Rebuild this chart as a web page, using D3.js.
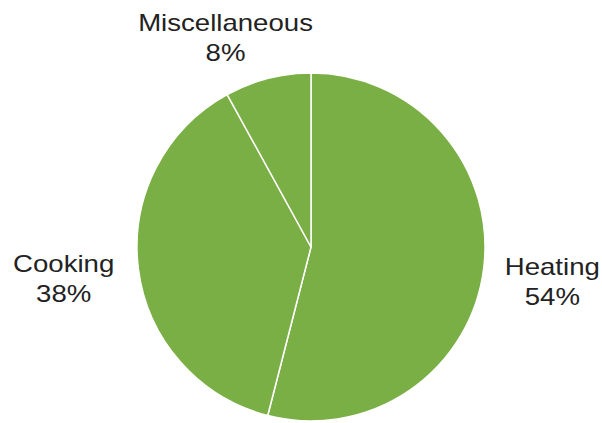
<!DOCTYPE html>
<html>
<head>
<meta charset="utf-8">
<script src="https://cdn.jsdelivr.net/npm/d3@7"></script>
<style>
  body { margin: 0; background: #fff; }
  svg text { font-family: "Liberation Sans", Arial, sans-serif; fill: #222; }
</style>
</head>
<body>
<svg id="chart" width="602" height="423"></svg>
<script>
var categories = ["Heating", "Cooking", "Miscellaneous"];
var shares = [54, 38, 8];

var width = 602, height = 423;
var cx = 311, cy = 247, radius = 174;

var svg = d3.select("#chart");
var g = svg.append("g").attr("transform", `translate(${cx},${cy})`);

var data = categories.map((c, i) => ({ name: c, value: shares[i] }));

var pie = d3.pie().sort(null).value(d => d.value);
var arc = d3.arc().innerRadius(0).outerRadius(radius);
var labelArc = d3.arc().innerRadius(215).outerRadius(215);

var arcs = pie(data);

g.selectAll("path")
  .data(arcs)
  .join("path")
  .attr("d", arc)
  .attr("fill", "#7aaf45")
  .attr("stroke", "#fff")
  .attr("stroke-width", 1.5);

// nudges so the labels sit where the original put them
var nudge = { "Heating": [28, 1], "Cooking": [-34, -2], "Miscellaneous": [-32, -8] };

var labels = g.selectAll("g.label")
  .data(arcs)
  .join("g")
  .attr("class", "label")
  .attr("transform", d => {
    var p = labelArc.centroid(d);
    var n = nudge[d.data.name];
    return `translate(${p[0] + n[0]},${p[1] + n[1]}) scale(1.2,1)`;
  });

var t = labels.append("text")
  .attr("text-anchor", "middle")
  .style("font-size", "23px");
t.append("tspan").attr("x", 0).attr("y", 0).text(d => d.data.name);
t.append("tspan").attr("x", 0).attr("dy", 30).text(d => d.data.value + "%");
</script>
</body>
</html>
